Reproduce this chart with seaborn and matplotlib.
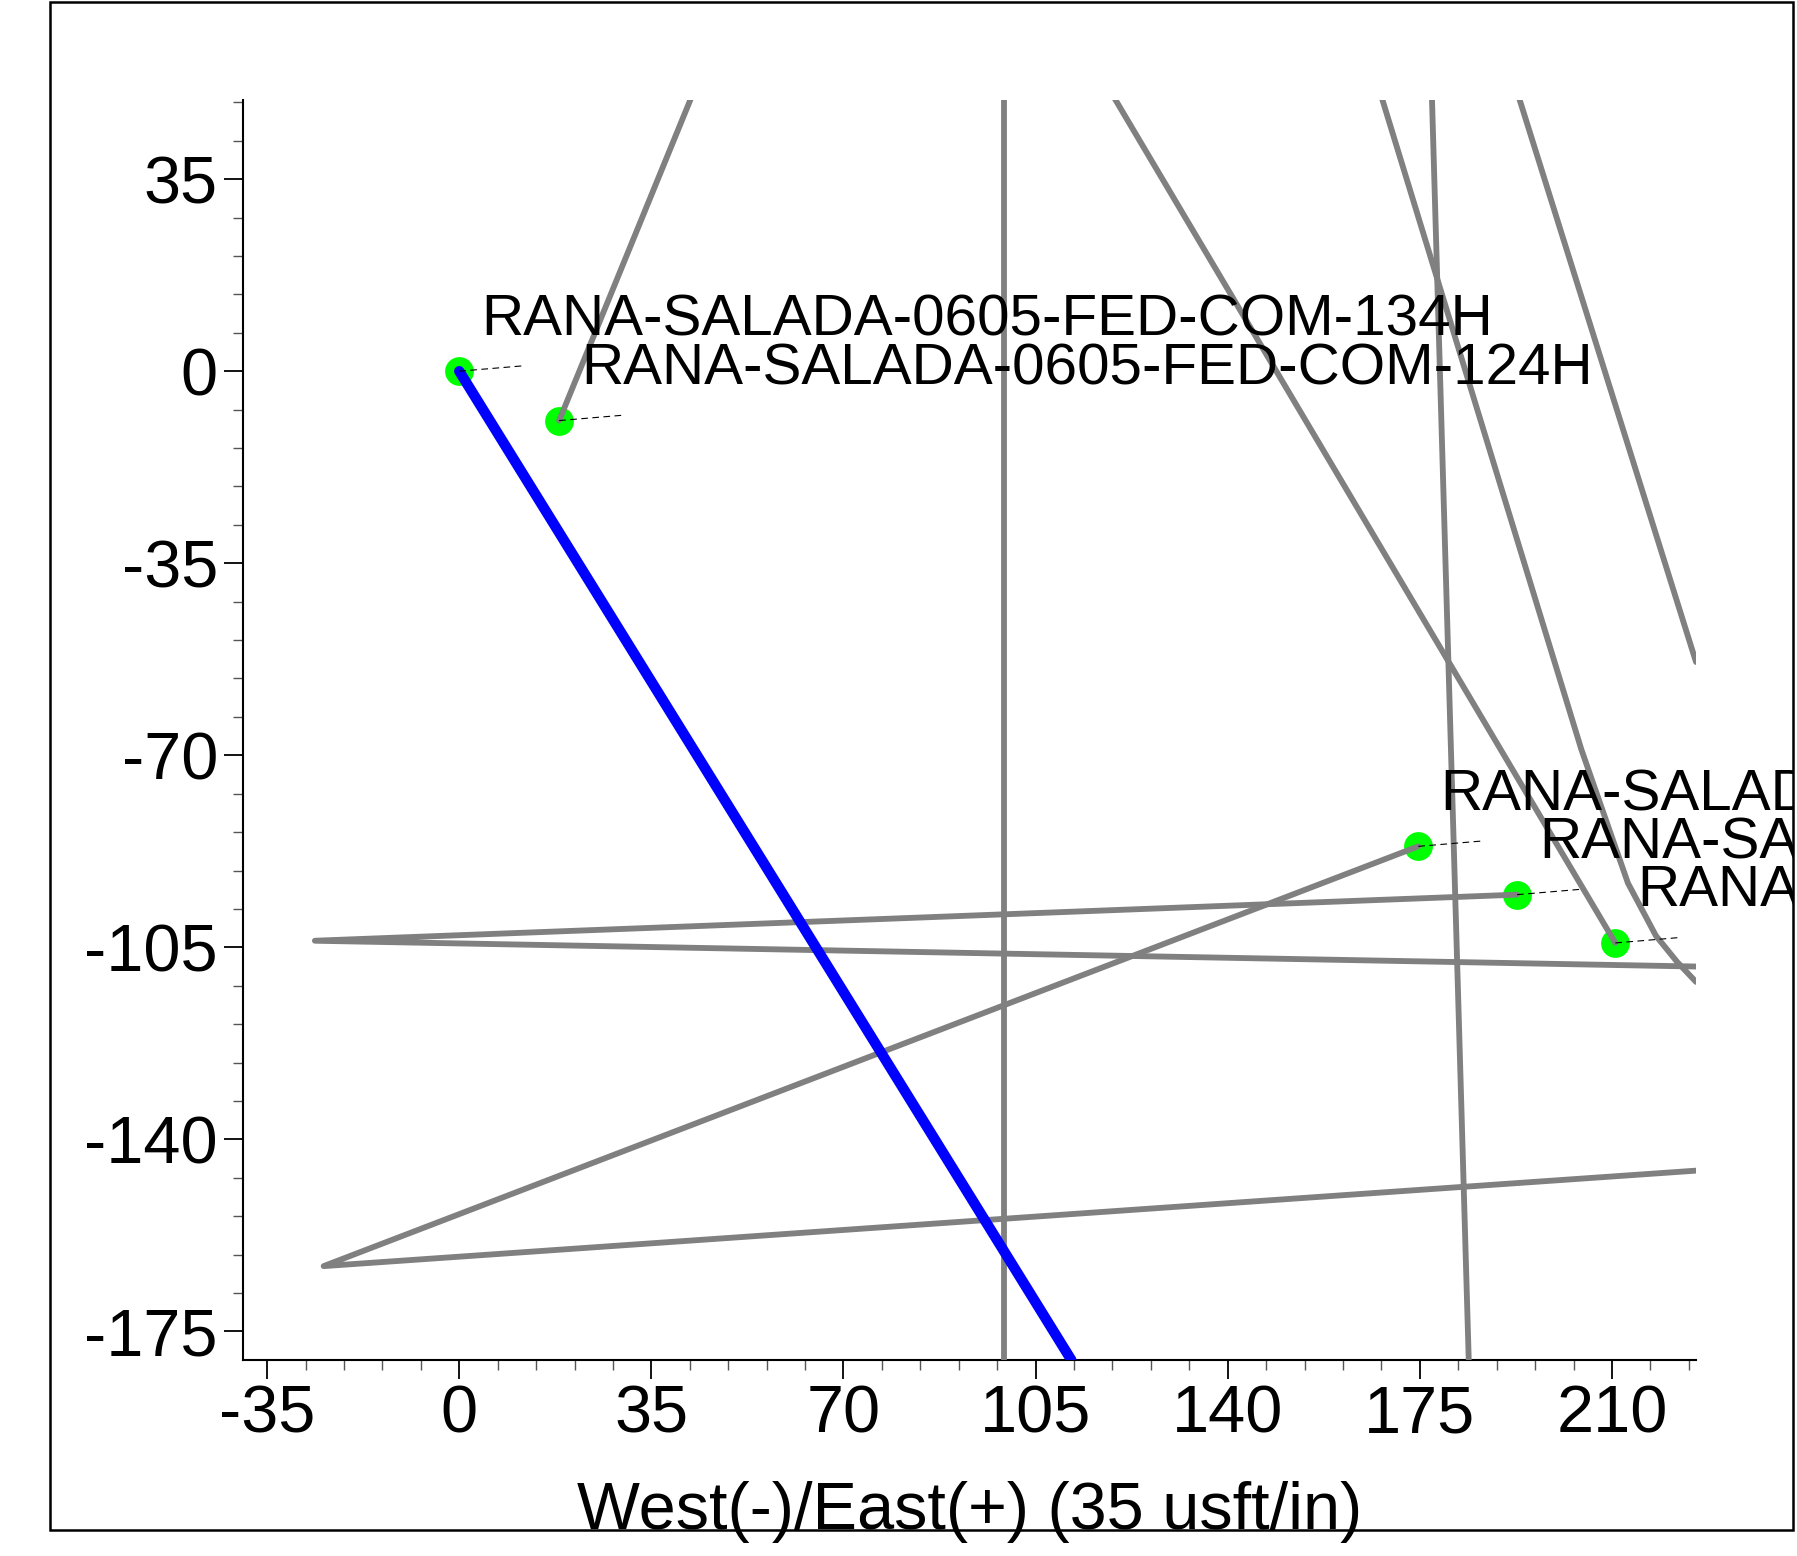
import matplotlib
matplotlib.use("Agg")
import matplotlib.pyplot as plt
from matplotlib.patches import Rectangle
from matplotlib.ticker import MultipleLocator
import seaborn as sns
import pandas as pd

# plan view, 35 usft per major tick
x_ticks = [-35, 0, 35, 70, 105, 140, 175, 210]
y_ticks = [35, 0, -35, -70, -105, -140, -175]
x_range = (-39.4, 225.3)
y_range = (-180.2, 49.5)

# subject well (blue)
subject_x = [0.0, 111.5]
subject_y = [0.0, -180.2]

# offset well paths (grey)
offset_paths = {
    "p124H": ([18.2, 42.2], [-9.0, 49.7]),
    "pvert": ([99.2, 99.2], [49.7, -180.2]),
    "pc": ([119.4, 210.6], [49.7, -104.2]),
    "pd": ([168.1, 204.4, 212.9, 218.0, 221.9, 225.3],
           [49.7, -68.9, -93.3, -102.9, -107.7, -111.3]),
    "pe": ([177.2, 183.9], [49.7, -180.2]),
    "pf": ([193.1, 225.3], [49.7, -53.0]),
    "pg": ([192.7, -26.3, 225.3], [-95.4, -103.8, -108.5]),
    "ph": ([174.7, -24.7, 225.3], [-86.6, -163.1, -145.7]),
}

# surface locations + labels
well_names = [
    "RANA-SALADA-0605-FED-COM-134H",
    "RANA-SALADA-0605-FED-COM-124H",
    "RANA-SALADA-0605-FED-COM-133H",
    "RANA-SALADA-0605-FED-COM-123H",
    "RANA-SALADA-0605-FED-COM-113H",
]
well_x = [0.0, 18.2, 174.7, 192.7, 210.6]
well_y = [0.0, -9.0, -86.6, -95.4, -104.2]

sns.set_style("ticks")
plt.rcParams['font.family'] = ['Liberation Sans', 'DejaVu Sans']
plt.rcParams['axes.unicode_minus'] = False
plt.rcParams['text.color'] = 'black'
plt.rcParams['xtick.labelcolor'] = 'black'
plt.rcParams['ytick.labelcolor'] = 'black'
plt.rcParams['axes.labelcolor'] = 'black'

fig = plt.figure(figsize=(17.97, 15.56), dpi=100)
ax = fig.add_axes([0.1352, 0.126, 0.8086, 0.810])

wells = pd.DataFrame({"x": well_x, "y": well_y, "name": well_names})
sns.scatterplot(data=wells, x="x", y="y", ax=ax, color="#00ff00", s=430,
                linewidth=0, zorder=2, legend=False)

for name, (px, py) in offset_paths.items():
    d = pd.DataFrame({"x": px, "y": py})
    sns.lineplot(data=d, x="x", y="y", ax=ax, sort=False, estimator=None,
                 color="#808080", lw=4.2, solid_capstyle="round", zorder=3)

sns.lineplot(x=subject_x, y=subject_y, ax=ax, sort=False, estimator=None,
             color="#0000ff", lw=7.5, solid_capstyle="round", zorder=4)

frame = Rectangle((0.0278, 0.0167), 0.97, 0.982, transform=fig.transFigure,
                  fill=False, edgecolor="black", lw=1.8, zorder=10)
fig.patches.append(frame)

for i, row in wells.iterrows():
    ax.plot([row.x, row.x + 11.9], [row.y, row.y + 1.0], ls=(0, (6, 4)),
            color="black", lw=0.8, zorder=5)
    t = ax.text(row.x + 4.0, row.y + 9.3, row["name"], fontsize=42,
                ha="left", va="center", clip_on=True, zorder=6)
    t.set_clip_path(frame)

ax.set_xlim(*x_range)
ax.set_ylim(*y_range)
ax.set_xticks(x_ticks)
ax.set_yticks(y_ticks)
ax.xaxis.set_minor_locator(MultipleLocator(7))
ax.yaxis.set_minor_locator(MultipleLocator(7))
ax.tick_params(which="major", length=14, width=1.3, color="black",
               labelsize=48, pad=4, labelcolor="black")
ax.tick_params(which="minor", length=7, width=1.0, color="#555555")
ax.set_ylabel("")
ax.set_xlabel("West(-)/East(+) (35 usft/in)", fontsize=48, va="center",
              color="black")
ax.xaxis.set_label_coords(0.5, -0.121)

for s in ["top", "right"]:
    ax.spines[s].set_visible(False)
for s in ["left", "bottom"]:
    ax.spines[s].set_linewidth(1.5)
    ax.spines[s].set_color("black")

fig.savefig("out.png", dpi=100)
